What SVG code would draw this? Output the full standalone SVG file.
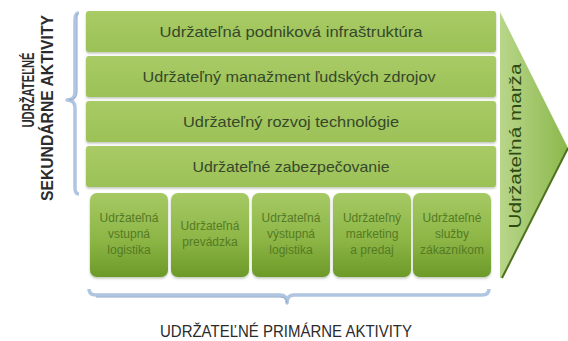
<svg xmlns="http://www.w3.org/2000/svg" width="568" height="341" viewBox="0 0 568 341">
<defs>
<linearGradient id="gBar" x1="0" y1="0" x2="0" y2="1">
<stop offset="0" stop-color="#a9cb66"/>
<stop offset="1" stop-color="#9cc157"/>
</linearGradient>
<linearGradient id="gBox" x1="0" y1="0" x2="0" y2="1">
<stop offset="0" stop-color="#a6c964"/>
<stop offset="0.55" stop-color="#8db646"/>
<stop offset="1" stop-color="#6c9a28"/>
</linearGradient>
<linearGradient id="gArrow" x1="0" y1="0" x2="1" y2="0">
<stop offset="0" stop-color="#b8d68a"/>
<stop offset="1" stop-color="#8cb84c"/>
</linearGradient>
<filter id="sh" x="-10%" y="-10%" width="120%" height="130%">
<feDropShadow dx="0" dy="1.5" stdDeviation="1.2" flood-color="#7a8a6a" flood-opacity="0.5"/>
</filter>
<style>
.bar{fill:url(#gBar);filter:url(#sh)}
.box{fill:url(#gBox);filter:url(#sh)}
.bt{font-family:"Liberation Sans",Arial,sans-serif;font-size:15px;fill:#36482a;text-anchor:middle}
.pt{font-family:"Liberation Sans",Arial,sans-serif;font-size:12px;fill:#557a24;text-anchor:middle}
.lab{font-family:"Liberation Sans",Arial,sans-serif;font-weight:bold;font-size:16px;fill:#2b2b2b;text-anchor:middle}
.brace{fill:none;stroke:#b0c5e0;stroke-width:3.5;stroke-linejoin:round}
.braceEdge{fill:none;stroke:#8ea8cb;stroke-width:1}
</style>
</defs>
<rect width="568" height="341" fill="#ffffff"/>

<g id="margin">
<polygon points="500,12 568,148 502,278 500,278" fill="url(#gArrow)"/>
<line x1="568" y1="148" x2="502" y2="278" stroke="#4f7220" stroke-width="2"/>
<text x="521" y="146" transform="rotate(-90 521 146)" font-family="'Liberation Sans',Arial,sans-serif" font-size="17" fill="#2e4a12" text-anchor="middle" textLength="165" lengthAdjust="spacingAndGlyphs">Udržateľná  marža</text>
</g>

<g id="s1"><rect class="bar" x="86" y="11" width="410" height="41" rx="3"/><text class="bt" x="291" y="37" textLength="263" lengthAdjust="spacingAndGlyphs">Udržateľná podniková infraštruktúra</text></g>
<g id="s2"><rect class="bar" x="86" y="56" width="410" height="41" rx="3"/><text class="bt" x="289" y="82" textLength="293" lengthAdjust="spacingAndGlyphs">Udržateľný manažment ľudských zdrojov</text></g>
<g id="s3"><rect class="bar" x="86" y="101" width="410" height="41" rx="3"/><text class="bt" x="291" y="127" textLength="216" lengthAdjust="spacingAndGlyphs">Udržateľný rozvoj technológie</text></g>
<g id="s4"><rect class="bar" x="86" y="146" width="410" height="41" rx="3"/><text class="bt" x="291" y="172" textLength="197" lengthAdjust="spacingAndGlyphs">Udržateľné zabezpečovanie</text></g>

<g id="p1"><rect class="box" x="90" y="193" width="78" height="84" rx="7"/>
<text class="pt" x="129" y="222">Udržateľná</text><text class="pt" x="129" y="238">vstupná</text><text class="pt" x="129" y="254">logistika</text></g>
<g id="p2"><rect class="box" x="171" y="193" width="78" height="84" rx="7"/>
<text class="pt" x="210" y="230">Udržateľná</text><text class="pt" x="210" y="246">prevádzka</text></g>
<g id="p3"><rect class="box" x="252" y="193" width="78" height="84" rx="7"/>
<text class="pt" x="291" y="222">Udržateľná</text><text class="pt" x="291" y="238">výstupná</text><text class="pt" x="291" y="254">logistika</text></g>
<g id="p4"><rect class="box" x="333" y="193" width="78" height="84" rx="7"/>
<text class="pt" x="372" y="222">Udržateľný</text><text class="pt" x="372" y="238">marketing</text><text class="pt" x="372" y="254">a predaj</text></g>
<g id="p5"><rect class="box" x="413" y="193" width="78" height="84" rx="7"/>
<text class="pt" x="452" y="222">Udržateľné</text><text class="pt" x="452" y="238">služby</text><text class="pt" x="452" y="254">zákazníkom</text></g>

<g id="connectors">
<path class="brace" d="M79,13 Q75,13 75,20 L75,92 Q75,100 67,100 Q75,100 75,108 L75,188 Q75,194 79,194"/>
<path class="braceEdge" d="M77,14 L77,92 Q77,100 69,100"/>
<path class="brace" d="M89,289 Q89,295 96,295 L280,295 Q287,295 287,303 Q287,295 294,295 L482,295 Q489,295 489,289"/>
<path class="braceEdge" d="M96,297 L280,297 Q287,297 287,303"/>
</g>

<g id="labels">
<text class="lab" x="0" y="0" transform="translate(34 90) rotate(-90) scale(0.70 1)">UDRŽATEĽNÉ</text>
<text class="lab" x="53" y="108" transform="rotate(-90 53 108)" textLength="186" lengthAdjust="spacingAndGlyphs">SEKUNDÁRNE AKTIVITY</text>
<text x="286" y="337" font-family="'Liberation Sans',Arial,sans-serif" font-size="16" fill="#2b2b2b" text-anchor="middle" textLength="252" lengthAdjust="spacingAndGlyphs">UDRŽATEĽNÉ PRIMÁRNE AKTIVITY</text>
</g>
</svg>
